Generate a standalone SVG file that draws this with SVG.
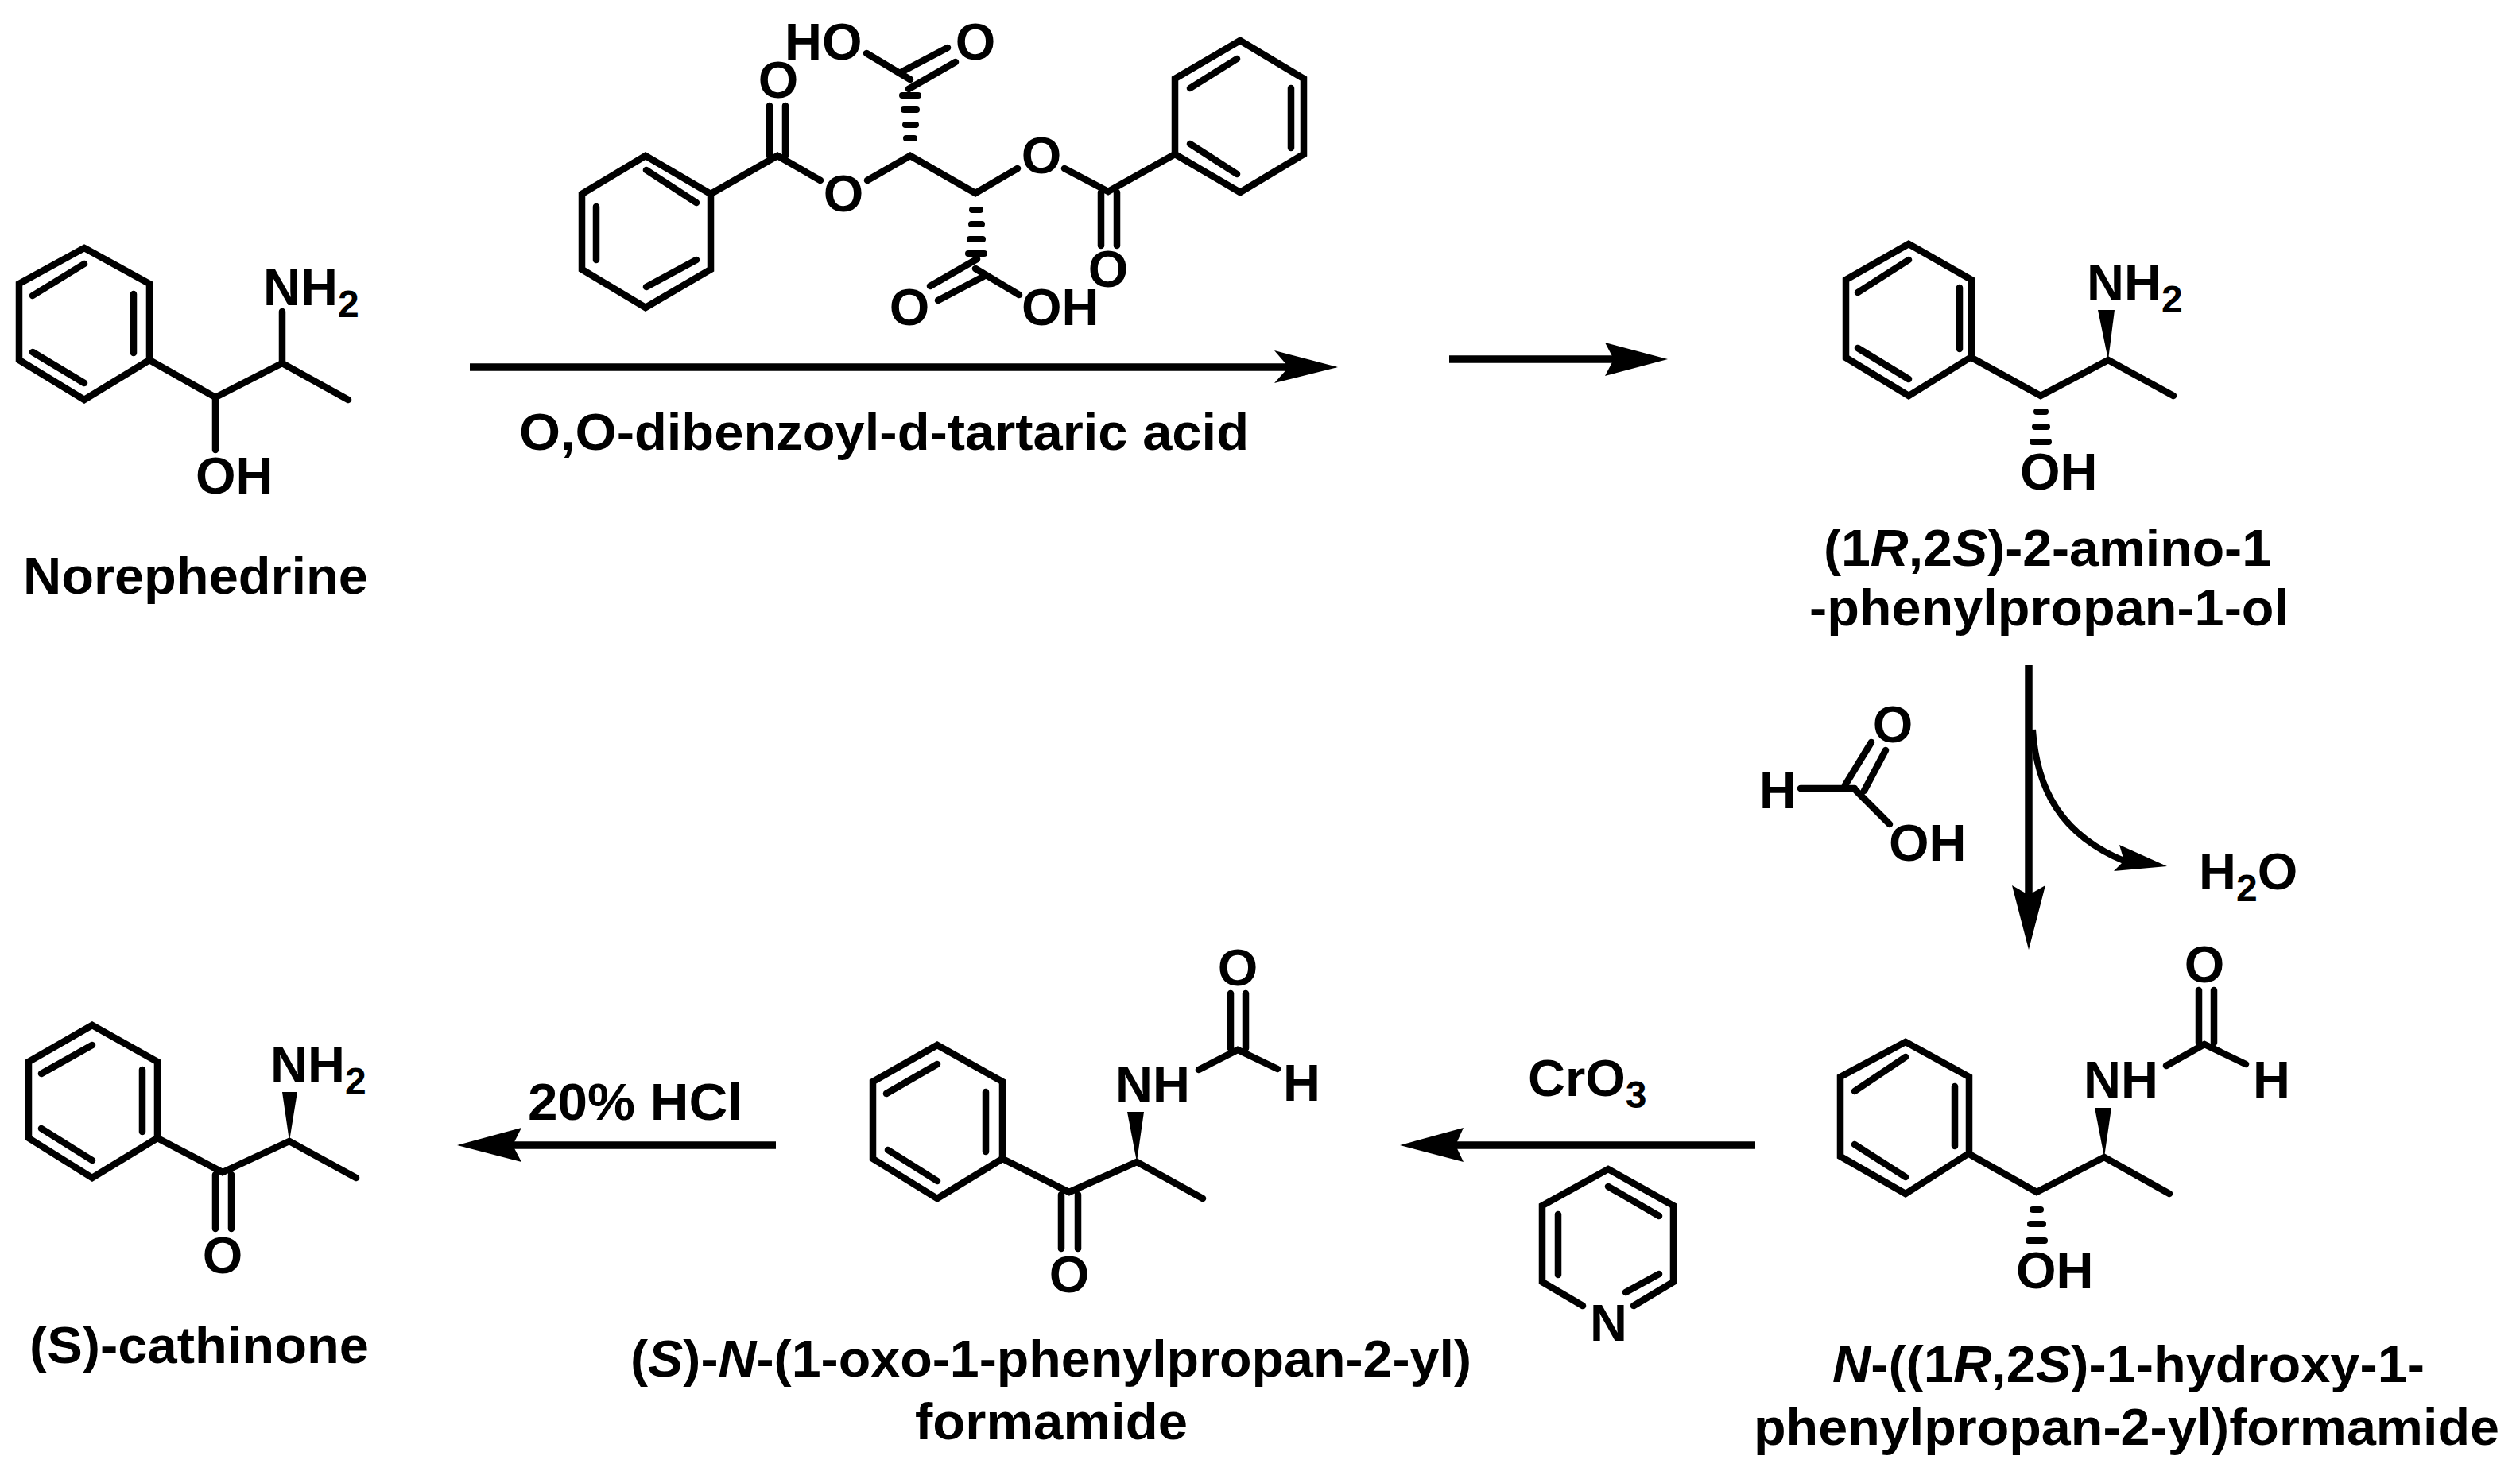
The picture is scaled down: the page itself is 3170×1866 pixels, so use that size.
<svg xmlns="http://www.w3.org/2000/svg" width="3170" height="1866" viewBox="0 0 3170 1866">
<style>
.b{fill:none;stroke:#000;stroke-width:8.500;stroke-linecap:round;stroke-linejoin:miter}
.a{font-family:"Liberation Sans",Arial,sans-serif;font-size:65px;font-weight:bold;fill:#000}
.m{text-anchor:middle}
.l{font-family:"Liberation Sans",Arial,sans-serif;font-size:65px;font-weight:bold;fill:#000}
.s{font-size:48px}
.i{font-style:italic}
.c{fill:none;stroke:#000;stroke-width:9.500}
.h{fill:#000;stroke:none}
</style>
<rect width="3170" height="1866" fill="#fff"/>
<g id="norephedrine">
<path class="b" d="M106 312L188 357V453L106 503L24 453V357ZM41 372L106 332M168 370V444M41 443L106 482M188 453L271 500L355 457L438 503M355 457V392M271 500V566"/>
<text class="a" x="331" y="384">NH<tspan class="s" dy="15">2</tspan></text>
<text class="a" x="246" y="621">OH</text>
<text class="l" x="29" y="747" textLength="434" lengthAdjust="spacingAndGlyphs">Norephedrine</text>
</g>
<g id="dibenzoyl-tartaric-acid">
<path class="b" d="M812 196L894 244V339L812 387L732 339V244ZM813 214L876 255M876 327L813 361M750 260V327M894 244L978 196L1032 227M968 196V133M988 196V133M1091 227L1145 196L1227 243L1280 212M1090 67L1145 100M1135 90L1192 60M1143 112L1202 78"/>
<path class="b" d="M1560 242L1478 194V99L1560 51L1640 99V194ZM1497 111L1556 74M1624 111V186M1497 181L1556 219M1478 194L1394 241L1339 212M1385 242V309M1405 242V309M1282 371L1227 338M1237 348L1180 378M1229 326L1170 360"/>
<g class="h"><rect x="1131" y="116" width="28" height="8" rx="4"/><rect x="1133" y="134" width="24" height="8" rx="4"/><rect x="1135" y="153" width="21" height="8" rx="4"/><rect x="1136" y="170" width="18" height="8" rx="4"/>
<rect x="1214" y="315" width="28" height="8" rx="4"/><rect x="1216" y="297" width="24" height="8" rx="4"/><rect x="1218" y="278" width="21" height="8" rx="4"/><rect x="1219" y="260" width="18" height="8" rx="4"/></g>
<text class="a m" x="979" y="123">O</text>
<text class="a m" x="1061" y="266">O</text>
<text class="a m" x="1310" y="218">O</text>
<text class="a m" x="1394" y="361">O</text>
<text class="a m" x="1144" y="409">O</text>
<text class="a" x="1285" y="409">OH</text>
<text class="a" x="987" y="75">HO</text>
<text class="a m" x="1227" y="75">O</text>
<text class="l" x="653" y="566" textLength="918" lengthAdjust="spacingAndGlyphs">O,O-dibenzoyl-d-tartaric acid</text>
</g>
<g id="aminoalcohol">
<path class="b" d="M2401 307L2480 352V449L2401 498L2322 450V352ZM2337 368L2401 327M2465 362V439M2337 438L2401 477M2480 450L2567 498L2652 453L2734 498"/>
<polygon class="h" points="2652,453 2639,390 2660,390"/>
<g class="h"><rect x="2558" y="514" width="19" height="8" rx="4"/><rect x="2556" y="533" width="23" height="8" rx="4"/><rect x="2553" y="552" width="28" height="8" rx="4"/></g>
<text class="a" x="2625" y="378">NH<tspan class="s" dy="15">2</tspan></text>
<text class="a" x="2541" y="616">OH</text>
<text class="l" x="2294" y="712" textLength="563" lengthAdjust="spacingAndGlyphs">(1<tspan class="i">R</tspan>,2<tspan class="i">S</tspan>)-2-amino-1</text>
<text class="l" x="2276" y="787" textLength="603" lengthAdjust="spacingAndGlyphs">-phenylpropan-1-ol</text>
</g>
<g id="formic-acid">
<path class="b" d="M2265 992H2333M2321 988L2354 934M2345 995L2372 944M2335 995L2377 1037"/>
<text class="a" x="2213" y="1017">H</text>
<text class="a m" x="2381" y="934">O</text>
<text class="a" x="2376" y="1083">OH</text>
</g>
<g id="water">
<text class="a" x="2766" y="1119">H<tspan class="s" dy="15">2</tspan><tspan dy="-15">O</tspan></text>
</g>
<g id="hydroxy-formamide">
<path class="b" d="M2397 1311L2477 1355V1451L2397 1502L2315 1455V1355ZM2333 1373L2397 1330M2459 1367V1442M2333 1440L2397 1481M2477 1452L2562 1500L2647 1456L2729 1502M2725 1341L2773 1314L2825 1339M2766 1312V1246M2785 1312V1246"/>
<polygon class="h" points="2647,1456 2635,1394 2656,1394"/>
<g class="h"><rect x="2553" y="1518" width="18" height="8" rx="4"/><rect x="2550" y="1536" width="24" height="8" rx="4"/><rect x="2548" y="1557" width="28" height="8" rx="4"/></g>
<text class="a" x="2621" y="1381">NH</text>
<text class="a" x="2834" y="1381">H</text>
<text class="a m" x="2773" y="1236">O</text>
<text class="a" x="2536" y="1621">OH</text>
<text class="l" x="2305" y="1739" textLength="745" lengthAdjust="spacingAndGlyphs"><tspan class="i">N</tspan>-((1<tspan class="i">R</tspan>,2<tspan class="i">S</tspan>)-1-hydroxy-1-</text>
<text class="l" x="2206" y="1818" textLength="938" lengthAdjust="spacingAndGlyphs">phenylpropan-2-yl)formamide</text>
</g>
<g id="pyridine">
<path class="b" d="M1991 1643L1940 1613V1517L2023 1471L2105 1517V1613L2055 1643M2023 1493L2087 1530M1960 1528V1604M2045 1626L2087 1603"/>
<text class="a" x="2000" y="1687">N</text>
</g>
<g id="ketoformamide">
<path class="b" d="M1179 1315L1261 1361V1458L1179 1508L1098 1458V1361ZM1115 1376L1179 1339M1240 1374V1449M1117 1447L1179 1486M1261 1458L1345 1500L1430 1462L1513 1508M1508 1346L1557 1321L1607 1345M1548 1319V1250M1567 1319V1250M1335 1503V1571M1356 1503V1571"/>
<polygon class="h" points="1430,1462 1418,1399 1439,1399"/>
<text class="a" x="1403" y="1387">NH</text>
<text class="a" x="1614" y="1385">H</text>
<text class="a m" x="1557" y="1240">O</text>
<text class="a m" x="1345" y="1626">O</text>
<text class="l" x="793" y="1732" textLength="1058" lengthAdjust="spacingAndGlyphs">(<tspan class="i">S</tspan>)-<tspan class="i">N</tspan>-(1-oxo-1-phenylpropan-2-yl)</text>
<text class="l" x="1151" y="1811" textLength="343" lengthAdjust="spacingAndGlyphs">formamide</text>
</g>
<g id="cathinone">
<path class="b" d="M116 1290L198 1336V1432L116 1482L36 1432V1336ZM52 1351L116 1315M179 1346V1424M52 1420L116 1460M198 1432L280 1475L364 1436L448 1482M271 1478V1546M291 1478V1546"/>
<polygon class="h" points="364,1436 355,1374 374,1374"/>
<text class="a" x="340" y="1362">NH<tspan class="s" dy="15">2</tspan></text>
<text class="a m" x="280" y="1602">O</text>
<text class="l" x="37" y="1715" textLength="427" lengthAdjust="spacingAndGlyphs">(S)-cathinone</text>
</g>
<g id="connectors">
<path class="c" d="M591 462H1625"/><polygon class="h" points="1683,462 1603,441 1621,462 1603,482"/>
<path class="c" d="M1823 452H2034"/><polygon class="h" points="2098,452 2019,431 2030,452 2019,473"/>
<path class="c" d="M2552 837V1130"/><polygon class="h" points="2552,1195 2531,1114 2552,1126 2573,1114"/>
<path class="c" style="stroke-width:8" d="M2557 918C2562 990 2590 1050 2674 1084"/><polygon class="h" points="2726,1090 2666,1063 2672,1083 2659,1096"/>
<path class="c" d="M2208 1441H1825"/><polygon class="h" points="1761,1441 1841,1419 1831,1441 1841,1462"/>
<path class="c" d="M976 1441H640"/><polygon class="h" points="575,1441 656,1419 645,1441 656,1462"/>
</g>
<g id="reagents">
<text class="l" x="664" y="1409" textLength="270" lengthAdjust="spacingAndGlyphs">20% HCl</text>
<text class="a" x="1922" y="1379">CrO<tspan class="s" dy="15">3</tspan></text>
</g>
</svg>
